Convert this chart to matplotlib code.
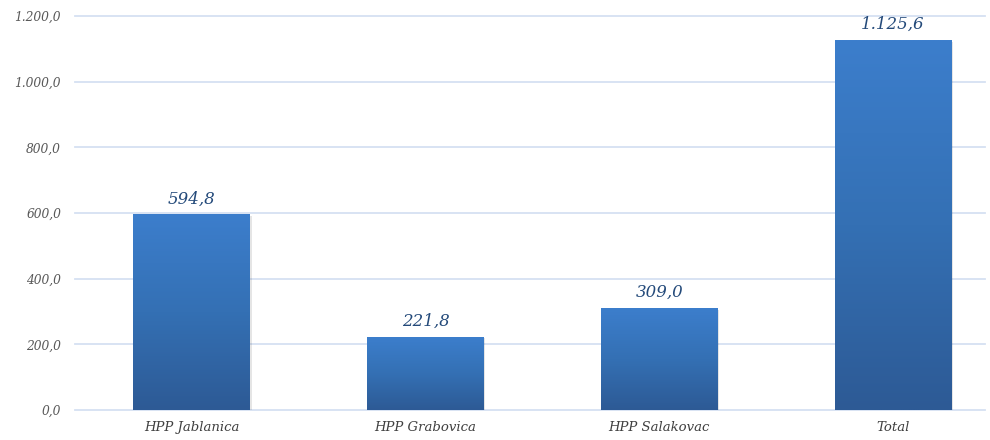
import matplotlib
matplotlib.use("Agg")
import matplotlib.pyplot as plt
import numpy as np
from matplotlib.colors import LinearSegmentedColormap

categories = ["HPP Jablanica", "HPP Grabovica", "HPP Salakovac", "Total"]
values = [594.8, 221.8, 309.0, 1125.6]
yticks = [0, 200, 400, 600, 800, 1000, 1200]

def fmt(v):
    s = f"{v:,.1f}"
    return s.replace(",", "X").replace(".", ",").replace("X", ".")

plt.rcParams['font.family'] = ['DejaVu Serif']
fig = plt.figure(figsize=(9.9, 4.4), dpi=100)
ax = fig.add_axes([75/990, 1 - 410/440, 910/990, 394/440])

cmap = LinearSegmentedColormap.from_list("g", ["#2D5A95", "#3470B4", "#3C7ECC"])
grad = np.linspace(0, 1, 256).reshape(-1, 1)
width = 0.5
x = np.arange(len(categories))
for xi, v in zip(x, values):
    ax.bar(xi + 0.006, v, width=width, bottom=-4, color="#000000", alpha=0.10, zorder=2, linewidth=0)
    ax.imshow(grad, cmap=cmap, origin="lower", aspect="auto",
              extent=(xi - width/2, xi + width/2, 0, v), zorder=3, interpolation="bilinear")
    ax.text(xi, v + 22, fmt(v), ha="center", va="bottom", fontsize=12, style="italic",
            color="#244A7A", zorder=4)

ax.set_xlim(-0.5, -0.5 + 910/233.7)
ax.set_ylim(0, 1200)
ax.set_yticks(yticks)
ax.set_yticklabels([fmt(t) for t in yticks], fontsize=8.8, style="italic", color="#595959")
ax.set_xticks(x)
ax.set_xticklabels(categories, fontsize=9.5, style="italic", color="#404040")
ax.tick_params(length=0, pad=10)
ax.tick_params(axis='x', pad=8)
for t in yticks:
    ax.axhline(t, color="#D6E1F2", linewidth=1.3, zorder=0, clip_on=False)
for s in ax.spines.values():
    s.set_visible(False)

fig.savefig("out.png", dpi=100)
